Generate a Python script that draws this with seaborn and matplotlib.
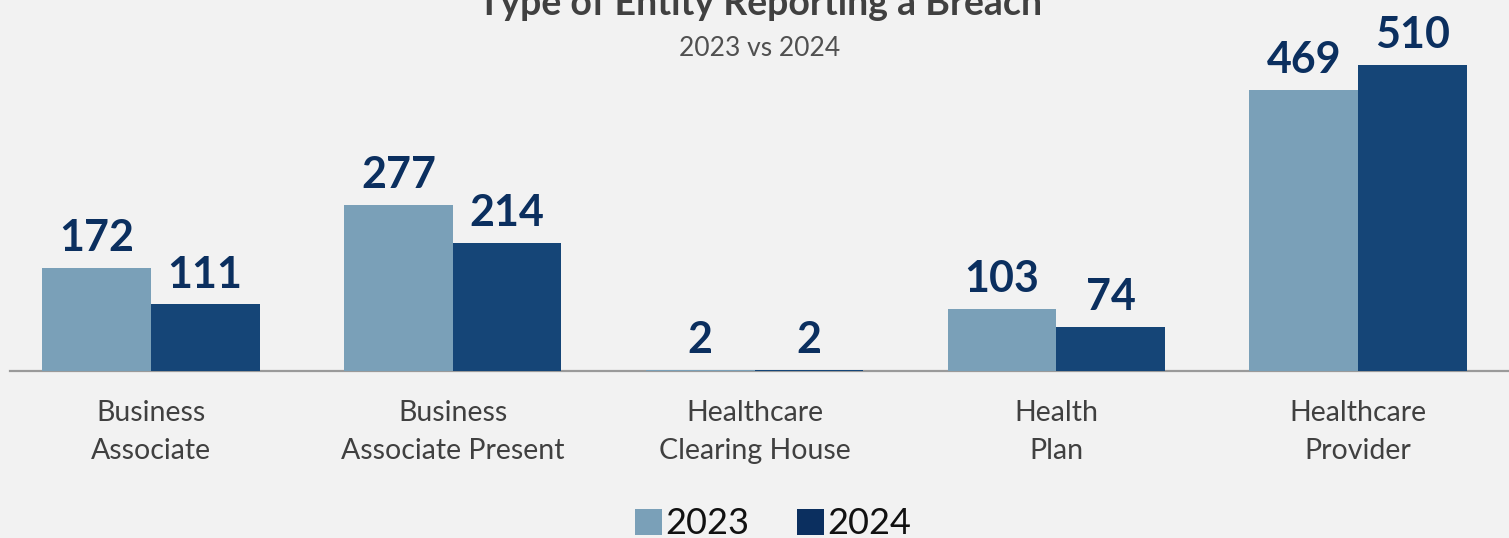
import matplotlib
matplotlib.use("Agg")
import matplotlib.pyplot as plt
import matplotlib.patches as mpatches
import seaborn as sns
import pandas as pd

categories = ["Business\nAssociate", "Business\nAssociate Present", "Healthcare\nClearing House",
              "Health\nPlan", "Healthcare\nProvider"]
years = ["2023", "2024"]
values_2023 = [172, 277, 2, 103, 469]
values_2024 = [111, 214, 2, 74, 510]

bar_colors = {"2023": "#7aa0b8", "2024": "#154577"}
legend_colors = {"2023": "#7aa0b8", "2024": "#0b2f5f"}
label_color = "#0b2f5f"
bg = "#f2f2f2"

df = pd.DataFrame({
    "category": categories * 2,
    "year": [years[0]] * len(categories) + [years[1]] * len(categories),
    "count": values_2023 + values_2024,
})

sns.set_theme(style="white")
plt.rcParams["font.family"] = ["Lato", "DejaVu Sans"]

W, H = 1509, 538
fig = plt.figure(figsize=(W / 100, H / 100), dpi=100, facecolor=bg)
ax = fig.add_axes([0, (H - 371) / H, 1, 371 / H], facecolor=bg)

sns.barplot(data=df, x="category", y="count", hue="year", order=categories,
            hue_order=years, palette=bar_colors, width=0.72, gap=0,
            saturation=1, linewidth=0, edgecolor="none", legend=False, ax=ax)

ax.set_xlim(-0.5, 4.5)
ax.set_ylim(0, 371 / 0.6)

for cont in ax.containers:
    ax.bar_label(cont, padding=7, fontsize=31, fontweight="bold", color=label_color)

for s in ["top", "left", "right"]:
    ax.spines[s].set_visible(False)
ax.spines["bottom"].set_color("#9a9a9a")
ax.spines["bottom"].set_linewidth(1.6)
ax.spines["bottom"].set_bounds(-0.5 + 10 / 301.8, 4.5)
ax.spines["bottom"].set_zorder(0.5)

ax.set_yticks([])
ax.set_xlabel("")
ax.set_ylabel("")
ax.tick_params(axis="x", length=0, pad=21, labelsize=20.5, labelcolor="#404040")
for t in ax.get_xticklabels():
    t.set_linespacing(1.55)

fig.text(760 / W, 1 - 15 / H, "Type of Entity Reporting a Breach", ha="center", va="baseline",
         fontsize=27, fontweight="bold", color="#404040")
fig.text(760 / W, 1 - 48 / H, "2023 vs 2024", ha="center", va="center",
         fontsize=19, color="#505050")

handles = [mpatches.Patch(facecolor=legend_colors[y], edgecolor="none", label=y) for y in years]
fig.legend(handles=handles, loc="center", bbox_to_anchor=(773 / W, 1 - 524 / H), ncol=2,
           frameon=False, fontsize=26, handlelength=0.75, handleheight=0.75,
           handletextpad=0.1, columnspacing=1.3, labelcolor="#111111")

fig.savefig("out.png", dpi=100, facecolor=bg)
